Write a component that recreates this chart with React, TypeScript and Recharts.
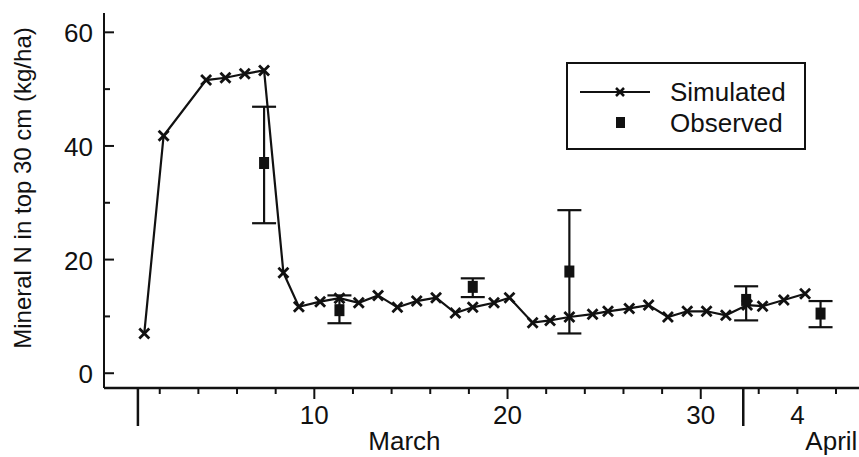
import { ComposedChart, Line, Scatter, ErrorBar, XAxis, YAxis } from 'recharts';

// days counted from 1 March (day 32 = 1 April)
const simDays = [1.2, 2.2, 4.4, 5.4, 6.4, 7.4, 8.4, 9.2, 10.3, 11.3, 12.3, 13.3, 14.3, 15.3, 16.3, 17.3, 18.2, 19.3, 20.1, 21.3, 22.2, 23.2, 24.4, 25.2, 26.3, 27.3, 28.3, 29.3, 30.3, 31.3, 32.4, 33.2, 34.3, 35.4];
const simN = [7.0, 41.8, 51.6, 52.0, 52.7, 53.3, 17.7, 11.7, 12.6, 13.2, 12.4, 13.7, 11.6, 12.7, 13.3, 10.6, 11.6, 12.4, 13.3, 8.9, 9.3, 9.9, 10.4, 10.9, 11.4, 12.0, 9.9, 10.9, 10.9, 10.2, 12.0, 11.8, 12.9, 14.0];

const obsDays = [7.4, 11.3, 18.2, 23.2, 32.35, 36.2];
const obsN = [37.0, 11.1, 15.2, 17.9, 12.9, 10.5];
const obsLow = [26.4, 8.8, 13.4, 7.0, 9.3, 8.1];
const obsHigh = [46.9, 13.7, 16.7, 28.7, 15.3, 12.7];

const xTicks = [0.87, 2, 4, 6, 8, 10, 12, 14, 16, 18, 20, 22, 24, 26, 28, 30, 32.2, 33, 35, 37];
const xLabels: Record<number, string> = { 10: '10', 20: '20', 30: '30', 35: '4' };
const longTicks = [0.87, 32.2];
const yTicks = [0, 10, 20, 30, 40, 50, 60];
const yLabels = [0, 20, 40, 60];

const simulated = simDays.map((d, i) => ({ day: d, n: simN[i] }));
const observed = obsDays.map((d, i) => ({ day: d, n: obsN[i], err: [obsN[i] - obsLow[i], obsHigh[i] - obsN[i]] }));

const FONT = '"Liberation Sans", Arial, Helvetica, sans-serif';

const Cross = (props: any) => {
  const { cx, cy, index } = props;
  if (cx == null || cy == null) return <g key={index} />;
  return (
    <g key={index} stroke="#111" strokeWidth={2.8}>
      <line x1={cx - 5} y1={cy - 5} x2={cx + 5} y2={cy + 5} />
      <line x1={cx - 5} y1={cy + 5} x2={cx + 5} y2={cy - 5} />
    </g>
  );
};

const Square = (props: any) => (
  <rect x={props.cx - 5} y={props.cy - 6} width={10} height={12} fill="#111" />
);

const XTick = (props: any) => {
  const { x, y, payload } = props;
  const v = payload.value;
  const isLong = longTicks.includes(v);
  const isMajor = v === 10 || v === 20 || v === 30;
  const len = isLong ? 38 : isMajor ? 11 : 6;
  return (
    <g>
      <line x1={x} y1={y} x2={x} y2={y + len} stroke="#111" strokeWidth={isLong ? 2.5 : 2} />
      {xLabels[v] && (
        <text x={x} y={y + 36} textAnchor="middle" fontSize={26} fontFamily={FONT} fill="#111">
          {xLabels[v]}
        </text>
      )}
      {v === 10 && (
        <text x={x + 54} y={y + 62} fontSize={26} fontFamily={FONT} fill="#111">March</text>
      )}
      {v === 35 && (
        <text x={x + 8} y={y + 62} fontSize={26} fontFamily={FONT} fill="#111">April</text>
      )}
    </g>
  );
};

const YTick = (props: any) => {
  const { x, y, payload } = props;
  const v = payload.value;
  const labelled = yLabels.includes(v);
  return (
    <g>
      <line x1={x} y1={y} x2={x + (labelled ? 10 : 6)} y2={y} stroke="#111" strokeWidth={2} />
      {labelled && (
        <text x={x - 11} y={y + 10} textAnchor="end" fontSize={26} fontFamily={FONT} fill="#111">
          {v}
        </text>
      )}
    </g>
  );
};

const YTitle = () => (
  <text
    transform="translate(31,188) rotate(-90)"
    textAnchor="middle"
    fontSize={24}
    fontFamily={FONT}
    fill="#111"
  >
    Mineral N in top 30 cm (kg/ha)
  </text>
);

export default function App() {
  return (
    <div style={{ position: 'absolute', left: 0, top: 0, width: 859, height: 457, background: '#fff' }}>
      <ComposedChart width={859} height={457} margin={{ top: 13, right: 0, bottom: 0, left: 0 }}>
        <XAxis
          dataKey="day"
          type="number"
          domain={[-0.885, 38.19]}
          allowDataOverflow
          ticks={xTicks}
          interval={0}
          tick={<XTick />}
          tickLine={false}
          tickSize={0}
          tickMargin={0}
          height={69}
          axisLine={{ stroke: '#111', strokeWidth: 2.5 }}
        />
        <YAxis
          type="number"
          domain={[-2.6, 63.4]}
          allowDataOverflow
          ticks={yTicks}
          interval={0}
          tick={<YTick />}
          tickLine={false}
          tickSize={0}
          tickMargin={0}
          width={104}
          axisLine={{ stroke: '#111', strokeWidth: 2 }}
          label={{ content: () => <YTitle /> }}
        />
        <Line
          data={simulated}
          dataKey="n"
          name="Simulated"
          type="linear"
          stroke="#111"
          strokeWidth={2.2}
          dot={<Cross />}
          isAnimationActive={false}
        />
        <Scatter data={observed} dataKey="n" name="Observed" shape={<Square />} isAnimationActive={false}>
          <ErrorBar dataKey="err" direction="y" width={12} stroke="#111" strokeWidth={2.2} />
        </Scatter>
      </ComposedChart>
      <div
        style={{
          position: 'absolute',
          left: 566,
          top: 62,
          width: 236,
          height: 84,
          border: '2px solid #111',
          background: '#fff',
        }}
      >
        <svg width={236} height={84}>
          <line x1={12} y1={28} x2={82} y2={28} stroke="#111" strokeWidth={2} />
          <g stroke="#111" strokeWidth={2.5}>
            <line x1={48} y1={24} x2={56} y2={32} />
            <line x1={48} y1={32} x2={56} y2={24} />
          </g>
          <text x={102} y={37} fontSize={26} fontFamily={FONT} fill="#111">Simulated</text>
          <rect x={48} y={53} width={9} height={11} fill="#111" />
          <text x={102} y={68} fontSize={26} fontFamily={FONT} fill="#111">Observed</text>
        </svg>
      </div>
    </div>
  );
}
